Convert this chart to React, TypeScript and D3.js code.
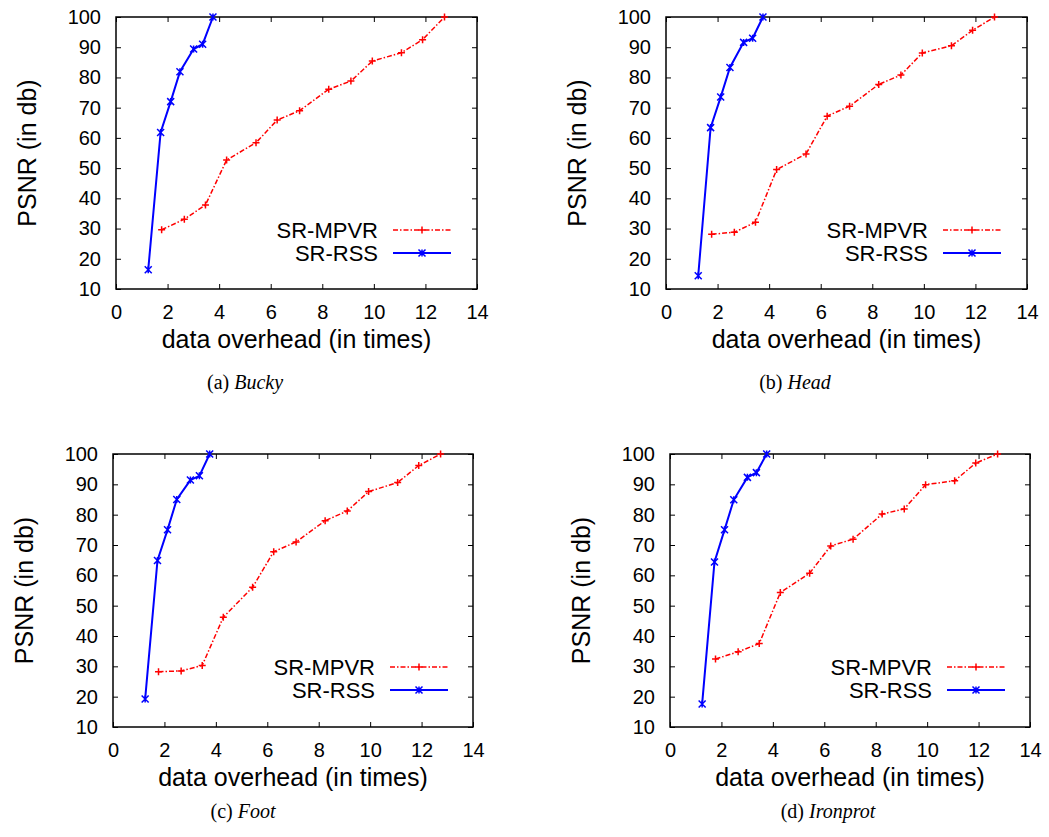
import React, { useEffect, useRef } from 'react';
import * as d3 from 'd3';

// x values (data overhead, in times) shared by every panel
const overheadMPVR = [1.77, 2.65, 3.47, 4.29, 5.43, 6.25, 7.12, 8.25, 9.11, 9.94, 11.07, 11.89, 12.74];
const overheadRSS = [1.25, 1.73, 2.12, 2.48, 3.01, 3.36, 3.76];

// PSNR values (in db)
const buckyMPVR = [29.6, 33.1, 37.8, 52.7, 58.4, 65.9, 69.0, 76.1, 78.8, 85.4, 88.2, 92.5, 100];
const buckyRSS = [16.4, 61.8, 72.0, 81.9, 89.4, 91.0, 100];
const headMPVR = [28.1, 28.8, 32.1, 49.5, 54.7, 67.2, 70.5, 77.7, 80.8, 88.1, 90.5, 95.6, 100];
const headRSS = [14.4, 63.4, 73.5, 83.3, 91.6, 93.0, 100];
const footMPVR = [28.2, 28.5, 30.3, 46.2, 56.1, 67.8, 71.0, 78.0, 81.2, 87.6, 90.6, 96.2, 100];
const footRSS = [19.2, 64.9, 75.0, 85.0, 91.4, 92.8, 100];
const ironMPVR = [32.4, 34.8, 37.5, 54.3, 60.7, 69.7, 71.9, 80.2, 81.9, 89.9, 91.2, 97.0, 100];
const ironRSS = [17.6, 64.4, 75.0, 84.9, 92.3, 93.85, 100];

const seriesNames = ['SR-MPVR', 'SR-RSS'];
const captionLetters = ['(a)', '(b)', '(c)', '(d)'];
const datasetNames = ['Bucky', 'Head', 'Foot', 'Ironprot'];
const xLabel = 'data overhead (in times)';
const yLabel = 'PSNR (in db)';

const SANS = '"Liberation Sans", Arial, Helvetica, sans-serif';
const SERIF = '"Liberation Serif", "Times New Roman", serif';
const RED = '#ff0000';
const BLUE = '#0000ff';

// panel frames in page pixels
const panels = [
  { left: 116, right: 477, top: 17, bottom: 289, capX: 245, capY: 389, mpvr: buckyMPVR, rss: buckyRSS },
  { left: 666, right: 1027, top: 17, bottom: 289, capX: 795, capY: 389, mpvr: headMPVR, rss: headRSS },
  { left: 113, right: 473, top: 454, bottom: 727, capX: 243, capY: 818, mpvr: footMPVR, rss: footRSS },
  { left: 670, right: 1030, top: 454, bottom: 727, capX: 828, capY: 818, mpvr: ironMPVR, rss: ironRSS },
];

const plusPath = (s: number) => `M${-s},0H${s}M0,${-s}V${s}`;
const starPath = (s: number) =>
  `M${-s},${-s}L${s},${s}M${-s},${s}L${s},${-s}M0,${-s}V${s}`;

const App = () => {
  const ref = useRef<SVGSVGElement>(null);

  useEffect(() => {
    const svg = d3.select(ref.current);
    svg.selectAll('*').remove();

    panels.forEach((p, i) => {
      const x = d3.scaleLinear().domain([0, 14]).range([p.left, p.right]);
      const y = d3.scaleLinear().domain([10, 100]).range([p.bottom, p.top]);
      const g = svg.append('g');

      // axes, ticks pointing inward and mirrored
      const styleAxis = (sel: any) => {
        sel.select('.domain').remove();
        sel.selectAll('.tick line').attr('stroke', '#000').attr('stroke-width', 1);
        sel.selectAll('.tick text').attr('fill', '#000').style('font-family', SANS).style('font-size', '20px');
      };
      g.append('g').attr('transform', `translate(0,${p.bottom})`)
        .call(d3.axisBottom(x).ticks(7).tickSize(-5).tickPadding(16)).call(styleAxis);
      g.append('g').attr('transform', `translate(${p.left},0)`)
        .call(d3.axisLeft(y).ticks(9).tickSize(-5).tickPadding(15)).call(styleAxis);
      g.append('g').attr('transform', `translate(0,${p.top})`)
        .call(d3.axisTop(x).ticks(7).tickSize(-5).tickFormat(() => '')).call(styleAxis);
      g.append('g').attr('transform', `translate(${p.right},0)`)
        .call(d3.axisRight(y).ticks(9).tickSize(-5).tickFormat(() => '')).call(styleAxis);

      g.append('rect')
        .attr('x', p.left).attr('y', p.top)
        .attr('width', p.right - p.left).attr('height', p.bottom - p.top)
        .attr('fill', 'none').attr('stroke', '#000').attr('stroke-width', 1.5);

      // axis titles
      g.append('text')
        .attr('x', (p.left + p.right) / 2).attr('y', p.bottom + 59)
        .attr('text-anchor', 'middle')
        .style('font-family', SANS).style('font-size', '25px')
        .text(xLabel);
      g.append('text')
        .attr('transform', `translate(${p.left - 80},${(p.top + p.bottom) / 2}) rotate(-90)`)
        .attr('text-anchor', 'middle')
        .style('font-family', SANS).style('font-size', '25px')
        .text(yLabel);

      // series
      const mpvrPts = overheadMPVR.map((v, k) => [x(v), y(p.mpvr[k])] as [number, number]);
      const rssPts = overheadRSS.map((v, k) => [x(v), y(p.rss[k])] as [number, number]);
      const line = d3.line();

      g.append('path').attr('d', line(mpvrPts))
        .attr('fill', 'none').attr('stroke', RED).attr('stroke-width', 1.5)
        .attr('stroke-dasharray', '5,2,1.5,2');
      g.append('g').selectAll('path').data(mpvrPts).enter().append('path')
        .attr('transform', (d) => `translate(${d[0]},${d[1]})`)
        .attr('d', plusPath(3.5)).attr('stroke', RED).attr('stroke-width', 1.5);

      g.append('path').attr('d', line(rssPts))
        .attr('fill', 'none').attr('stroke', BLUE).attr('stroke-width', 2);
      g.append('g').selectAll('path').data(rssPts).enter().append('path')
        .attr('transform', (d) => `translate(${d[0]},${d[1]})`)
        .attr('d', starPath(3.5)).attr('stroke', BLUE).attr('stroke-width', 1.5);

      // legend
      const leg = g.append('g');
      seriesNames.forEach((name, k) => {
        const ly = p.top + 213 + k * 23;
        const color = k === 0 ? RED : BLUE;
        leg.append('text')
          .attr('x', p.left + 262).attr('y', ly).attr('dy', '0.36em')
          .attr('text-anchor', 'end')
          .style('font-family', SANS).style('font-size', '22px')
          .text(name);
        leg.append('line')
          .attr('x1', p.left + 277).attr('x2', p.left + 335)
          .attr('y1', ly).attr('y2', ly)
          .attr('stroke', color).attr('stroke-width', k === 0 ? 1.5 : 2)
          .attr('stroke-dasharray', k === 0 ? '5,2,1.5,2' : null);
        leg.append('path')
          .attr('transform', `translate(${p.left + 306},${ly})`)
          .attr('d', k === 0 ? plusPath(3.5) : starPath(3.5))
          .attr('stroke', color).attr('stroke-width', 1.5);
      });

      // caption
      const cap = g.append('text')
        .attr('x', p.capX).attr('y', p.capY)
        .attr('text-anchor', 'middle')
        .style('font-family', SERIF).style('font-size', '20px');
      cap.append('tspan').text(`${captionLetters[i]} `);
      cap.append('tspan').style('font-style', 'italic').text(datasetNames[i]);
    });
  }, []);

  return (
    <svg
      ref={ref}
      width={1049}
      height={837}
      style={{ position: 'absolute', left: 0, top: 0, background: '#fff' }}
    />
  );
};

export default App;
